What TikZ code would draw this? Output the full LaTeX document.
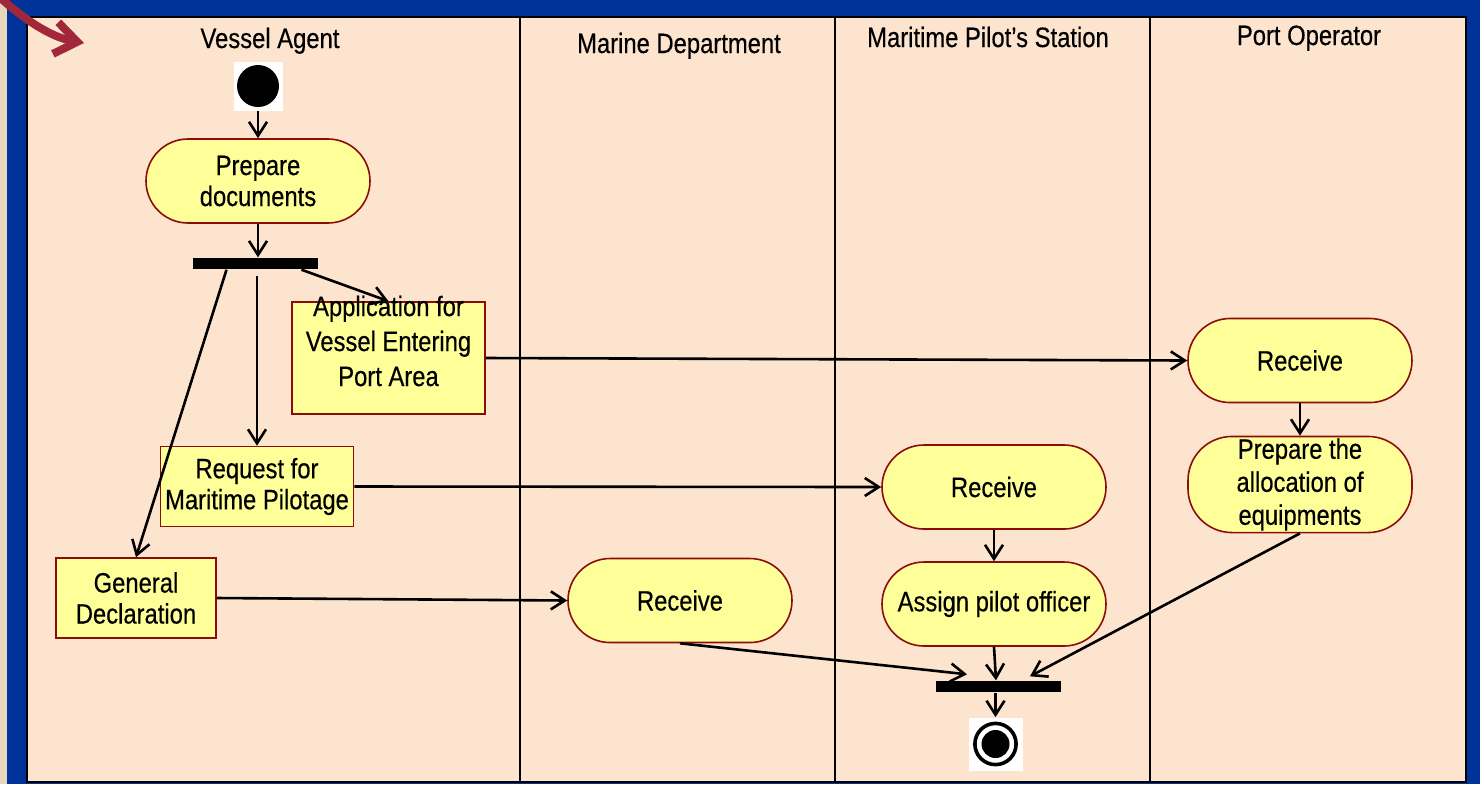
\documentclass[tikz,border=0pt]{standalone}
\usepackage{fontspec}
\setmainfont{Liberation Sans}[FakeStretch=0.85,FakeBold=0.4]
\usetikzlibrary{arrows.meta,calc}
\definecolor{frameblue}{RGB}{0,51,153}
\definecolor{strip}{RGB}{228,215,190}
\definecolor{lanebg}{RGB}{252,228,206}
\definecolor{actfill}{RGB}{255,255,153}
\definecolor{actline}{RGB}{140,12,12}
\definecolor{pointer}{RGB}{160,40,58}
\begin{document}
\begin{tikzpicture}[x=0.5pt,y=-0.5pt,
	font=\fontsize{14}{15.5}\selectfont,
	act/.style={draw=actline,fill=actfill,line width=0.8pt,rounded corners=21pt,minimum width=112pt,minimum height=42pt,align=center,inner sep=1pt},
	obj/.style={draw=actline,fill=actfill,line width=0.8pt,align=center,inner sep=1pt},
	bar/.style={fill=black,minimum width=62.5pt,minimum height=5.8pt,inner sep=0pt},
	flow/.style={line width=1.3pt,-{Straight Barb[length=7pt,width=9pt]}},
	lane/.style={line width=1pt}]
	\useasboundingbox (0,0) rectangle (1480,784);
	\fill[strip] (0,0) rectangle (7,784);
	\fill[frameblue] (7,0) rectangle (1480,784);
	\fill[lanebg] (27,17) rectangle (1466,782);
	\draw[lane] (27,17) rectangle (1466,782);
	\foreach \x in {520,835,1150}
		\draw[lane] (\x,17) -- (\x,782);
	\draw[pointer,line width=4pt,line cap=round,-{Straight Barb[length=11pt,width=16pt]}] (-4,-6) .. controls (30,25) and (55,38) .. (84,43);
	\node[anchor=base] (VA) at (270,48) {Vessel Agent};
	\node[anchor=base] (MD) at (679,53) {Marine Department};
	\node[anchor=base] (MP) at (988,47) {Maritime Pilot’s Station};
	\node[anchor=base] (PO) at (1309,45) {Port Operator};
	\node[fill=white,minimum size=24.5pt,inner sep=0pt] (ST) at (258,86) {};
	\fill (ST) circle (10.5pt);
	\node[act] (PD) at (258,181) {Prepare\\documents};
	\node[bar] (FK) at (255.5,263.5) {};
	\node[obj,minimum width=96.5pt,minimum height=56pt,label={[align=center,font=\fontsize{14}{17.5}\selectfont,yshift=8.5pt]center:Application for\\Vessel Entering\\Port Area}] (AP) at (388.5,358) {};
	\node[obj,minimum width=96.5pt,minimum height=40pt] (RQ) at (257,486.5) {Request for\\Maritime Pilotage};
	\node[obj,minimum width=80pt,minimum height=40pt] (GD) at (136,598) {General\\Declaration};
	\node[act] (RM) at (680,600.5) {Receive};
	\node[act] (RP) at (994,487) {Receive};
	\node[act] (AS) at (994,604) {Assign pilot officer};
	\node[act] (RO) at (1300,360.5) {Receive};
	\node[act,minimum height=48pt,rounded corners=22pt,font=\fontsize{14}{16.5}\selectfont] (PA) at (1300,484.5) {Prepare the\\allocation of\\equipments};
	\node[bar] (JN) at (998,686.5) {};
	\node[fill=white,minimum width=27pt,minimum height=26.5pt,inner sep=0pt] (EN) at (995.5,744) {};
	\draw[line width=1.8pt] (EN) circle (10.3pt);
	\fill (EN) circle (7pt);
	\draw[flow] (ST.south) -- (PD.north);
	\draw[flow] (PD.south) -- (PD.south |- FK.north);
	\draw[flow] ($(FK.south)+(46,0)$) -- (AP.north);
	\draw[flow] ([yshift=-3pt]FK.south -| RQ.north) -- (RQ.north);
	\draw[flow] ($(FK.south)+(-29,0)$) -- (GD.north);
	\draw[flow] (AP.east) -- (RO.west);
	\draw[flow] (RQ.east) -- (RP.west);
	\draw[flow] (GD.east) -- (RM.west);
	\draw[flow] (RO) -- (PA);
	\draw[flow] (RP) -- (AS);
	\draw[flow] (RM.south) -- ($(JN.north)+(-31,-6)$);
	\draw[flow] (AS.south) -- ($(JN.north)+(-2,0)$);
	\draw[flow] (PA.south) -- ($(JN.north)+(32,-4)$);
	\draw[flow] (JN.south -| EN.north) -- (EN.north);
\end{tikzpicture}
\end{document}
